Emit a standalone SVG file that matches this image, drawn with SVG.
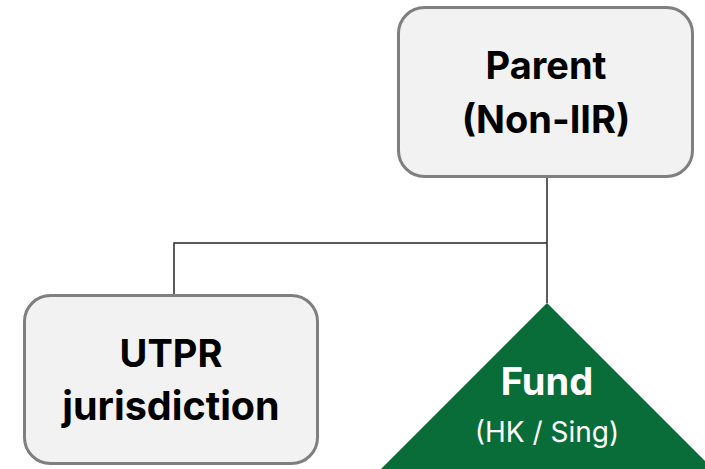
<svg xmlns="http://www.w3.org/2000/svg" width="705" height="469" viewBox="0 0 705 469">
  <style>
    .box { fill: #f2f2f2; stroke: #7f7f7f; stroke-width: 3; }
    .wire { fill: none; stroke: #262626; stroke-width: 1.5; }
    .lbl { font-family: Inter, "Open Sans", "Liberation Sans", sans-serif; text-anchor: middle; }
    .bold { font-weight: 700; font-size: 38px; fill: #000000; }
    .title { font-weight: 700; font-size: 38px; fill: #ffffff; }
    .sub { font-weight: 400; font-size: 28px; fill: #ffffff; }
  </style>
  <rect width="705" height="469" fill="#ffffff"/>
  <g id="connectors">
    <path class="wire" d="M547 177 V303"/>
    <path class="wire" d="M547 243 H174 V295"/>
  </g>
  <g id="parent">
    <rect class="box" x="398.5" y="7.5" width="294" height="169" rx="26"/>
    <text class="lbl bold" x="546" y="79">Parent</text>
    <text class="lbl bold" x="546" y="133">(Non-IIR)</text>
  </g>
  <g id="utpr">
    <rect class="box" x="24.5" y="295.5" width="293" height="168" rx="26"/>
    <text class="lbl bold" x="171" y="367">UTPR</text>
    <text class="lbl bold" x="171" y="420" style="font-size:39.5px">jurisdiction</text>
  </g>
  <g id="fund">
    <polygon points="547,303 379,471 715,471" fill="#086d38"/>
    <text class="lbl title" x="547" y="395">Fund</text>
    <text class="lbl sub" x="547" y="442">(HK / Sing)</text>
  </g>
</svg>
